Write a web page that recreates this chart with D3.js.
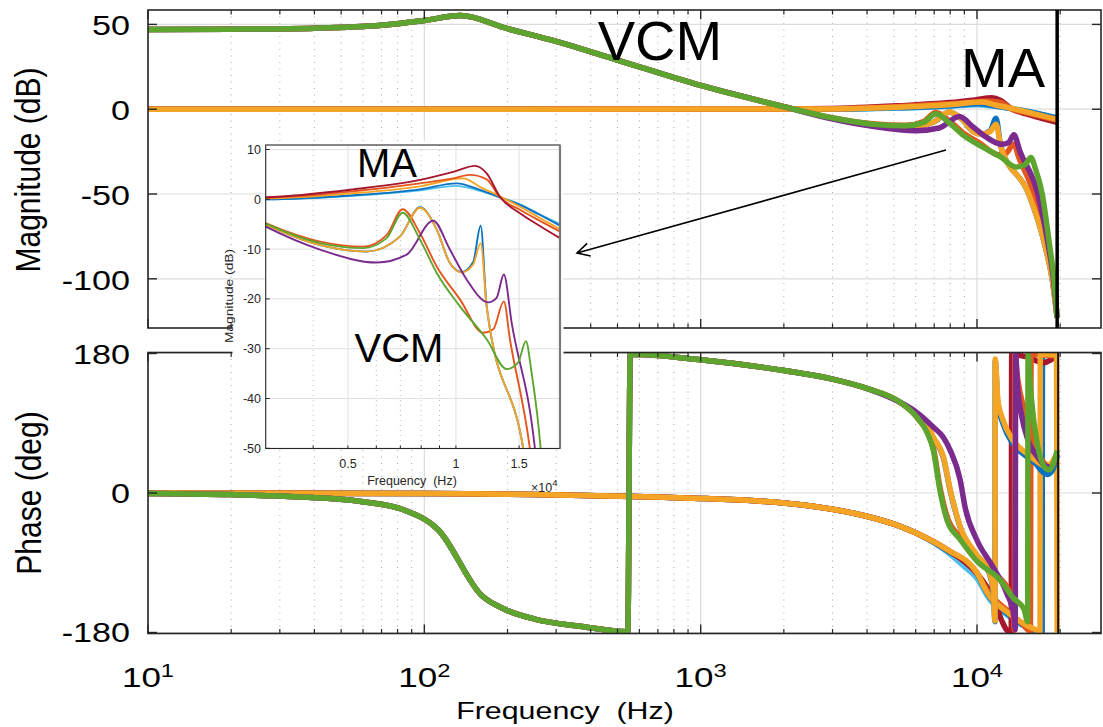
<!DOCTYPE html>
<html>
<head>
<meta charset="utf-8">
<script src="https://cdn.jsdelivr.net/npm/d3@7"></script>
<style>
  body { margin: 0; background: #fff; }
  text { font-family: "Liberation Sans", Arial, Helvetica, sans-serif; }
</style>
</head>
<body>
<svg id="chart" width="1103" height="727"></svg>
<script>
// ---------- data: frequency response of the MA and VCM loops (Hz, dB / deg) ----------
const nyquistHz = 19500;

// VCM loops share the same low-frequency behaviour
const vcmMagLow = [[10,47],[20,47.2],[40,47.8],[70,49.5],[100,52.3],[135,55.2],[200,47.5],[300,40],[500,29],[1000,14],[2000,1.5]];
const vcmMagGreen = [[2950,-4.9],[4180,-8.8],[5520,-9.8],[6410,-7.8],[7100,-2.7],[7940,-8.1],[8840,-14.8],[10260,-21.5],[12180,-28.1],[13850,-34.1],[14900,-32.8],[15670,-28.5],[16250,-34.8],[17220,-50],[18300,-80],[19000,-100],[19500,-123]];
const vcmMagRedOrange = [[2950,-4.8],[4180,-8.5],[5520,-9.5],[6410,-7.2],[7100,-2.0],[7940,-6.8],[8840,-13.5],[10260,-20.1],[11910,-26.8],[12700,-26.1],[13600,-20.5],[14140,-28.1],[16070,-50],[17800,-80],[18800,-100],[19500,-123]];
const vcmMagPurple = [[2950,-5.5],[4180,-10.1],[6010,-12.7],[7290,-11.1],[8640,-4.3],[9620,-10.1],[10710,-16.1],[12300,-20.7],[12980,-19.8],[13600,-15.1],[14300,-24.8],[16600,-50],[18100,-80],[18900,-100],[19500,-123]];
const vcmMagYellow = [[2950,-5.1],[4180,-9.2],[5640,-10.5],[6980,-7.5],[7940,-1.7],[8840,-6.1],[9620,-12.8],[10370,-14.7],[11170,-13.1],[11720,-8.8],[12180,-21.5],[15400,-50],[17600,-80],[18700,-100],[19500,-123]];
const vcmMagBlue = [[2950,-5.1],[4180,-9.2],[5640,-10.5],[6980,-7.5],[7940,-1.6],[8840,-6.1],[9620,-12.8],[10370,-14.6],[11170,-12.6],[11720,-5.3],[12180,-21.5],[15400,-50],[17600,-80],[18700,-100],[19500,-123]];

const vcmPhaseLow = [[10,-0.5],[20,-2],[35,-5],[59,-11],[84.5,-22],[112,-47],[162,-133],[195,-150],[253,-163],[366,-172],[545,-179],[556,179],[1000,172],[2000,158],[3000,147],[3990,135],[5270,117]];
const vcmPhaseGreen = [[6050,98],[6600,78],[6950,55],[7340,4],[7790,-35],[8690,-60],[10000,-88],[12100,-112],[13500,-135],[14800,-150],[15250,-166],[15300,178],[15700,125],[16500,65],[17600,33],[18200,30],[18800,36],[19500,55]];
const vcmPhaseRedOrange = [[6050,98],[6950,58],[7340,8],[7790,-30],[8690,-57],[10000,-85],[12100,-110],[13000,-125],[13500,-150],[13650,-177],[13700,178],[14000,150],[15000,100],[16500,55],[17600,38],[18500,35],[19500,45]];
const vcmPhasePurple = [[6050,104],[6950,85],[7550,72],[8000,55],[8690,17],[9050,-18],[9970,-60],[11400,-95],[12800,-129],[13600,-158],[13750,-176],[13800,178],[14000,140],[14500,100],[15300,68],[16700,45],[17500,36],[18500,33],[19200,42],[19500,50]];
const vcmPhaseYellow = [[6050,102],[6600,88],[6950,72],[7550,47],[8000,4],[8690,-43],[10000,-80],[11000,-100],[11450,-125],[11620,-165],[11640,173],[11900,120],[12400,95],[13500,68],[15000,52],[16300,42],[17600,35],[18500,38],[19500,52]];
const vcmPhaseBlue = [[6050,101],[6600,87],[6950,71],[7550,46],[8000,3],[8690,-44],[10000,-81],[11000,-101],[11450,-127],[11620,-166],[11640,170],[11900,114],[12400,90],[13500,63],[15000,48],[16300,38],[17200,28],[18000,24],[18800,30],[19500,48]];

// MA loops
const maMagLow = [[10,0],[100,0.02],[1000,0.1],[2000,0.2]];
const maMagDarkRed = [[2950,0.4],[5170,2.0],[7940,3.9],[9830,5.5],[11300,6.7],[12180,5.2],[13260,0.5],[15080,-2.8],[17000,-5.2],[19500,-7.8]];
const maMagRedOrange = [[2950,0.3],[5170,1.6],[7940,3.2],[9830,4.2],[10940,4.9],[12180,4.0],[13260,0.4],[15080,-2.1],[17000,-4.2],[19500,-6.5]];
const maMagYellow = [[2950,0.2],[5170,1.2],[7940,2.6],[10480,4.2],[11660,2.5],[13260,0.6],[15080,-1.5],[17000,-3.6],[19500,-6.0]];
const maMagBlue = [[2950,0.0],[5170,0.8],[7940,2.0],[10040,3.2],[11660,1.9],[13260,0.4],[15080,-1.1],[17000,-3.0],[19500,-5.3]];
const maMagLightBlue = [[2950,0.0],[5170,0.7],[7940,1.8],[10000,2.7],[11660,1.7],[13260,0.4],[15080,-1.0],[17000,-2.9],[19500,-5.0]];

const maPhaseLow = [[10,0],[100,-0.7],[1000,-7],[2000,-13],[3000,-21],[3990,-30],[5270,-43],[6050,-52]];
const maPhaseLightBlue = [[7790,-76],[9000,-95],[10000,-110],[11000,-135],[12900,-158],[15000,-173],[17200,-179.5],[17250,179],[19500,178]];
const maPhaseBlue = [[7790,-74],[10000,-104],[10900,-130],[12900,-156],[15000,-172],[16500,-178],[17200,-179.5],[17250,179],[19500,178]];
const maPhaseDarkRed = [[7790,-73],[10000,-104],[10900,-122],[11400,-133],[12300,-165],[12900,-178],[13300,-179.5],[13350,179],[14500,177],[15500,175],[16500,170],[17500,168],[18500,172],[19500,176]];
const maPhaseRedOrange = [[7790,-73],[10000,-103],[10900,-126],[12900,-152],[14500,-168],[15600,-178],[15700,179],[17000,178],[19500,177]];
const maPhaseYellow = [[7790,-73],[10000,-103],[10900,-129],[12900,-154],[15000,-170],[16200,-176],[16900,-179.5],[16950,179],[19400,178],[19500,-180]];

// axis ticks
const magTicks = [50, 0, -50, -100];
const phaseTicks = [180, 0, -180];
const decadeExponents = [1, 2, 3, 4];
const insetMagTicks = [10, 0, -10, -20, -30, -40, -50];
const insetFreqTicks = [5000, 10000, 15000];
const insetFreqTickLabels = ["0.5", "1", "1.5"];
const insetMinorFreqs = [4000, 6000, 7000, 8000, 9000];

// colours
const palette = {
  blue: "#0B72C2", redOrange: "#E5561E", yellow: "#F4A526", purple: "#7B2A8E",
  green: "#5EA530", lightBlue: "#4DBEEE", darkRed: "#A6172F"
};

// series tables (drawing order: first at the back)
const maSeries = [
  { color: palette.lightBlue, mag: maMagLow.concat(maMagLightBlue), phase: maPhaseLow.concat(maPhaseLightBlue) },
  { color: palette.blue,      mag: maMagLow.concat(maMagBlue),      phase: maPhaseLow.concat(maPhaseBlue) },
  { color: palette.darkRed,   mag: maMagLow.concat(maMagDarkRed),   phase: maPhaseLow.concat(maPhaseDarkRed) },
  { color: palette.redOrange, mag: maMagLow.concat(maMagRedOrange), phase: maPhaseLow.concat(maPhaseRedOrange) },
  { color: palette.yellow,    mag: maMagLow.concat(maMagYellow),    phase: maPhaseLow.concat(maPhaseYellow) }
];
const vcmSeries = [
  { color: palette.blue,      mag: vcmMagLow.concat(vcmMagBlue),      phase: vcmPhaseLow.concat(vcmPhaseBlue) },
  { color: palette.redOrange, mag: vcmMagLow.concat(vcmMagRedOrange), phase: vcmPhaseLow.concat(vcmPhaseRedOrange) },
  { color: palette.yellow,    mag: vcmMagLow.concat(vcmMagYellow),    phase: vcmPhaseLow.concat(vcmPhaseYellow) },
  { color: palette.purple,    mag: vcmMagLow.concat(vcmMagPurple),    phase: vcmPhaseLow.concat(vcmPhasePurple) },
  { color: palette.green,     mag: vcmMagLow.concat(vcmMagGreen),     phase: vcmPhaseLow.concat(vcmPhaseGreen) }
];
const insetMaOrder = [0, 1, 4, 3, 2];

// ---------- layout ----------
const svg = d3.select("#chart");
const axisColor = "#262626";
const L = 148, R = 1101;
const magTop = 10, magBottom = 328, phTop = 352.5, phBottom = 633.5;

const x = d3.scaleLog().domain([10, 28100]).range([L, R]);
const yMag = d3.scaleLinear().domain([-129, 58.5]).range([magBottom, magTop]);
const yPh = d3.scaleLinear().domain([-181.3, 181.3]).range([phBottom, phTop]);

const defs = svg.append("defs");
defs.append("clipPath").attr("id", "clipMag").append("rect")
  .attr("x", L).attr("y", magTop).attr("width", R - L).attr("height", magBottom - magTop);
defs.append("clipPath").attr("id", "clipPh").append("rect")
  .attr("x", L).attr("y", phTop).attr("width", R - L).attr("height", phBottom - phTop);

// minor log positions across the frequency axis
const minorFreqs = [];
decadeExponents.forEach(e => {
  for (let k = 2; k <= 9; k++) {
    const f = k * Math.pow(10, e);
    if (f < x.domain()[1]) minorFreqs.push(f);
  }
});
const majorFreqs = decadeExponents.map(e => Math.pow(10, e));

function drawGrid(yScale, ticks, top, bottom) {
  const g = svg.append("g");
  g.selectAll(".minor").data(minorFreqs).join("line")
    .attr("x1", d => x(d)).attr("x2", d => x(d)).attr("y1", top).attr("y2", bottom)
    .attr("stroke", "#a9a9a9").attr("stroke-width", 1).attr("stroke-dasharray", "1,5.5");
  g.selectAll(".major").data(majorFreqs).join("line")
    .attr("x1", d => x(d)).attr("x2", d => x(d)).attr("y1", top).attr("y2", bottom)
    .attr("stroke", "#dcdcdc").attr("stroke-width", 1.2);
  g.selectAll(".hy").data(ticks).join("line")
    .attr("x1", L).attr("x2", R).attr("y1", d => yScale(d)).attr("y2", d => yScale(d))
    .attr("stroke", "#dcdcdc").attr("stroke-width", 1.2);
}

function drawFrame(yScale, ticks, top, bottom) {
  const g = svg.append("g").attr("stroke", axisColor);
  g.append("rect").attr("x", L).attr("y", top).attr("width", R - L).attr("height", bottom - top)
    .attr("fill", "none").attr("stroke-width", 1.6);
  [[top, 1], [bottom, -1]].forEach(([yy, dir]) => {
    g.selectAll(null).data(majorFreqs).join("line")
      .attr("x1", d => x(d)).attr("x2", d => x(d)).attr("y1", yy).attr("y2", yy + dir * 9).attr("stroke-width", 1.4);
    g.selectAll(null).data(minorFreqs).join("line")
      .attr("x1", d => x(d)).attr("x2", d => x(d)).attr("y1", yy).attr("y2", yy + dir * 4.5).attr("stroke-width", 1.2);
  });
  [[L, 1], [R, -1]].forEach(([xx, dir]) => {
    g.selectAll(null).data(ticks).join("line")
      .attr("x1", xx).attr("x2", xx + dir * 9).attr("y1", d => yScale(d)).attr("y2", d => yScale(d)).attr("stroke-width", 1.4);
  });
}

function drawCurves(series, key, yScale, clipId, width) {
  const line = d3.line().x(d => x(d[0])).y(d => yScale(d[1])).curve(d3.curveMonotoneX);
  svg.append("g").attr("clip-path", `url(#${clipId})`)
    .selectAll("path").data(series).join("path")
    .attr("d", d => line(d[key]))
    .attr("fill", "none").attr("stroke", d => d.color)
    .attr("stroke-width", width).attr("stroke-linejoin", "round");
}

// ---------- magnitude panel ----------
drawGrid(yMag, magTicks, magTop, magBottom);
drawCurves(maSeries, "mag", yMag, "clipMag", 5.5);
drawCurves(vcmSeries, "mag", yMag, "clipMag", 5.5);
drawFrame(yMag, magTicks, magTop, magBottom);
svg.append("line").attr("x1", x(nyquistHz)).attr("x2", x(nyquistHz))
  .attr("y1", magTop).attr("y2", magBottom).attr("stroke", "#000").attr("stroke-width", 3.5);

// ---------- phase panel ----------
drawGrid(yPh, phaseTicks, phTop, phBottom);
drawCurves(maSeries, "phase", yPh, "clipPh", 5.5);
drawCurves(vcmSeries, "phase", yPh, "clipPh", 5.5);
drawFrame(yPh, phaseTicks, phTop, phBottom);
svg.append("line").attr("x1", x(nyquistHz) + 1).attr("x2", x(nyquistHz) + 1)
  .attr("y1", phTop).attr("y2", phBottom).attr("stroke", "#111").attr("stroke-width", 2);

// ---------- tick labels and axis titles ----------
const labels = svg.append("g").attr("fill", "#000");
magTicks.forEach(v => {
  labels.append("text").attr("transform", `translate(130,${yMag(v) + 11}) scale(1.22,1)`)
    .attr("text-anchor", "end").attr("font-size", 28).text(v);
});
phaseTicks.forEach(v => {
  labels.append("text").attr("transform", `translate(130,${yPh(v) + 10}) scale(1.22,1)`)
    .attr("text-anchor", "end").attr("font-size", 28).text(v);
});
decadeExponents.forEach(e => {
  const t = labels.append("text").attr("transform", `translate(${x(Math.pow(10, e))},687) scale(1.25,1)`)
    .attr("text-anchor", "middle").attr("font-size", 28);
  t.append("tspan").text("10");
  t.append("tspan").attr("dy", -10).attr("font-size", 19).text(e);
});
labels.append("text").attr("transform", "translate(565,719) scale(1.32,1)")
  .attr("text-anchor", "middle").attr("font-size", 23).style("white-space", "pre").text("Frequency  (Hz)");
labels.append("text").attr("transform", "translate(40,170) rotate(-90) scale(1,1.18)")
  .attr("text-anchor", "middle").attr("font-size", 30).text("Magnitude (dB)");
labels.append("text").attr("transform", "translate(41,493) rotate(-90) scale(1,1.18)")
  .attr("text-anchor", "middle").attr("font-size", 30).text("Phase (deg)");

// ---------- zoomed inset of the 3-19.5 kHz magnitude ----------
const xi = d3.scaleLog().domain([2950, 19500]).range([265.7, 560]);
const yi = d3.scaleLinear().domain([-50, 10.9]).range([448.3, 145]);
const iL = 265.7, iR = 560, iT = 145, iB = 448.5;

svg.append("rect").attr("x", 232.5).attr("y", 300).attr("width", 331).attr("height", iB - 300).attr("fill", "#fff");
svg.append("rect").attr("x", iL - 1).attr("y", iT - 4).attr("width", iR - iL + 4).attr("height", iB - iT + 4).attr("fill", "#fff");
defs.append("clipPath").attr("id", "clipInset").append("rect")
  .attr("x", iL).attr("y", iT).attr("width", iR - iL).attr("height", iB - iT);

const ig = svg.append("g");
ig.selectAll(".im").data(insetMinorFreqs).join("line")
  .attr("x1", d => xi(d)).attr("x2", d => xi(d)).attr("y1", iT).attr("y2", iB)
  .attr("stroke", "#b4b4b4").attr("stroke-width", 0.9).attr("stroke-dasharray", "1,4");
ig.selectAll(".iM").data(insetFreqTicks).join("line")
  .attr("x1", d => xi(d)).attr("x2", d => xi(d)).attr("y1", iT).attr("y2", iB)
  .attr("stroke", "#e0e0e0").attr("stroke-width", 1);
ig.selectAll(".iy").data(insetMagTicks).join("line")
  .attr("x1", iL).attr("x2", iR).attr("y1", d => yi(d)).attr("y2", d => yi(d))
  .attr("stroke", "#e0e0e0").attr("stroke-width", 1);

const iline = d3.line().x(d => xi(d[0])).y(d => yi(d[1])).curve(d3.curveMonotoneX);
const insetSeries = insetMaOrder.map(i => maSeries[i]).concat(vcmSeries);
ig.append("g").attr("clip-path", "url(#clipInset)")
  .selectAll("path").data(insetSeries).join("path")
  .attr("d", d => iline(d.mag)).attr("fill", "none").attr("stroke", d => d.color)
  .attr("stroke-width", 1.9).attr("stroke-linejoin", "round");

const iframe = ig.append("g").attr("stroke", axisColor);
iframe.append("rect").attr("x", iL).attr("y", iT).attr("width", iR - iL).attr("height", iB - iT)
  .attr("fill", "none").attr("stroke-width", 1.1);
iframe.append("line").attr("x1", iR).attr("x2", iR).attr("y1", iT).attr("y2", iB)
  .attr("stroke", "#7a7a7a").attr("stroke-width", 2.2);
iframe.selectAll(null).data(insetMagTicks).join("line")
  .attr("x1", iL).attr("x2", iL + 4).attr("y1", d => yi(d)).attr("y2", d => yi(d));
iframe.selectAll(null).data(insetFreqTicks.concat(insetMinorFreqs)).join("line")
  .attr("x1", d => xi(d)).attr("x2", d => xi(d)).attr("y1", iB).attr("y2", iB - 3);

const il = svg.append("g").attr("fill", axisColor).attr("font-size", 12.5);
insetMagTicks.forEach(v => {
  il.append("text").attr("x", 261).attr("y", yi(v) + 4.5).attr("text-anchor", "end").text(v);
});
insetFreqTicks.forEach((f, i) => {
  il.append("text").attr("x", xi(f)).attr("y", 467.5).attr("text-anchor", "middle").text(insetFreqTickLabels[i]);
});
il.append("text").attr("x", 412).attr("y", 485).attr("text-anchor", "middle")
  .style("white-space", "pre").text("Frequency  (Hz)");
const ex = il.append("text").attr("x", 531).attr("y", 492);
ex.append("tspan").text("\u00d710");
ex.append("tspan").attr("dy", -6).attr("font-size", 9.5).text("4");
il.append("text").attr("transform", "translate(233,296) rotate(-90) scale(1.2,1)")
  .attr("text-anchor", "middle").attr("font-size", 11.5).text("Magnitude (dB)");

// ---------- annotations ----------
const ann = svg.append("g").attr("fill", "#000").attr("text-anchor", "middle");
ann.append("text").attr("x", 660).attr("y", 60).attr("font-size", 56).text("VCM");
ann.append("text").attr("x", 1003).attr("y", 87).attr("font-size", 56).text("MA");
ann.append("text").attr("x", 387).attr("y", 177).attr("font-size", 40).text("MA");
ann.append("text").attr("x", 399).attr("y", 362).attr("font-size", 40).text("VCM");

// arrow pointing from the high-frequency region to the inset
const arrowFrom = [946, 150], arrowTo = [577, 253];
const dx = arrowTo[0] - arrowFrom[0], dy = arrowTo[1] - arrowFrom[1];
const len = Math.hypot(dx, dy), ux = dx / len, uy = dy / len;
const headLen = 14, headAng = 28 * Math.PI / 180;
function rot(vx, vy, a) { return [vx * Math.cos(a) - vy * Math.sin(a), vx * Math.sin(a) + vy * Math.cos(a)]; }
const h1 = rot(-ux, -uy, headAng), h2 = rot(-ux, -uy, -headAng);
svg.append("path")
  .attr("d", `M${arrowFrom[0]},${arrowFrom[1]}L${arrowTo[0]},${arrowTo[1]}` +
             `M${arrowTo[0] + h1[0] * headLen},${arrowTo[1] + h1[1] * headLen}L${arrowTo[0]},${arrowTo[1]}` +
             `L${arrowTo[0] + h2[0] * headLen},${arrowTo[1] + h2[1] * headLen}`)
  .attr("fill", "none").attr("stroke", "#000").attr("stroke-width", 1.6);
</script>
</body>
</html>
